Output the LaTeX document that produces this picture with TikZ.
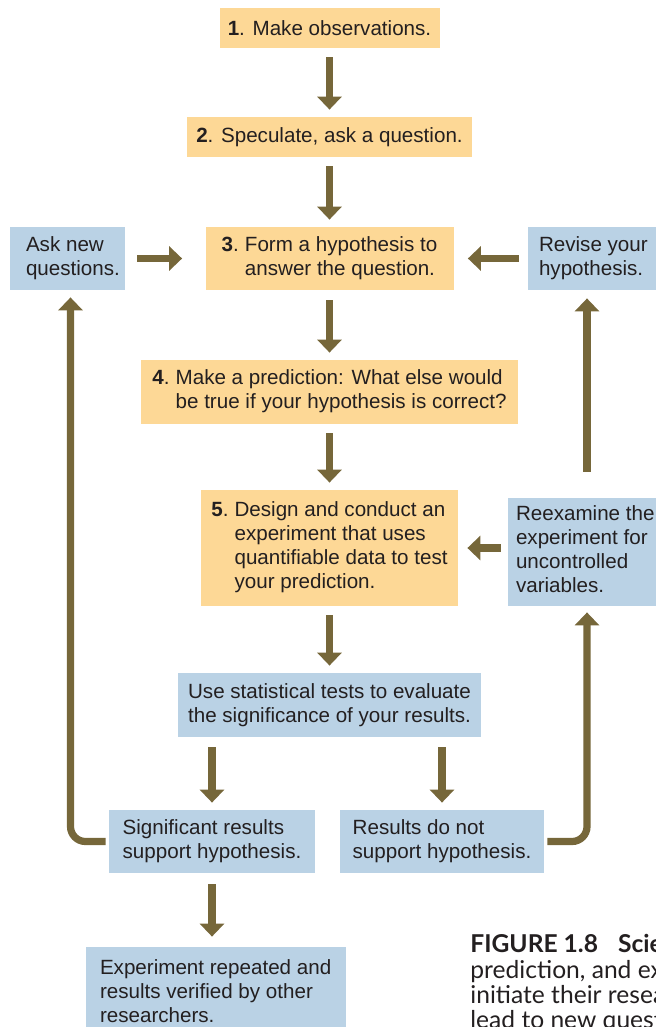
\documentclass[tikz,border=0pt]{standalone}
\usepackage{fontspec}
\setmainfont{Liberation Sans}
\newfontfamily\capfont{Lato}
\usetikzlibrary{arrows.meta}
\definecolor{orng}{HTML}{FDD896}
\definecolor{blu}{HTML}{BAD2E5}
\definecolor{arrc}{HTML}{76673A}
\definecolor{ink}{HTML}{231F20}
\newcommand{\stepnum}[1]{\textbf{#1}.\kern3pt}
\begin{document}
\begin{tikzpicture}[x=0.5pt,y=-0.5pt,
 every node/.style={inner sep=0pt, text=ink, font=\fontsize{10.3}{12}\selectfont},
 obox/.style={fill=orng},
 bbox/.style={fill=blu},
 txt/.style={align=left, anchor=west},
 captxt/.style={anchor=base west, font=\capfont\fontsize{12.3}{12}\selectfont},
 arr/.style={draw=arrc, line width=3.6pt, -{Triangle[width=12pt,length=6.5pt]}, shorten <=4.5pt, shorten >=3.5pt},
]
\path[use as bounding box, clip] (0,0) rectangle (656,1027);

% central column
\node[obox, minimum width=110pt, minimum height=20pt] (b1) at (329.5,28) {\textbf{1}. Make observations.};
\node[obox, minimum width=142.5pt, minimum height=20pt] (b2) at (329.5,137) {\textbf{2}. Speculate, ask a question.};
\node[obox, minimum width=124pt, minimum height=31.5pt] (b3) at (329.5,258.5)
  {\begin{tabular}{@{}l@{}l@{}}\stepnum{3} & Form a hypothesis to\\ & answer the question.\end{tabular}};
\node[obox, minimum width=188.5pt, minimum height=32pt] (b4) at (329.5,392)
  {\begin{tabular}{@{}l@{}l@{}}\stepnum{4} & Make a prediction: What else would\\ & be true if your hypothesis is correct?\end{tabular}};
\node[obox, minimum width=128.5pt, minimum height=58pt] (b5) at (329.5,548)
  {\begin{tabular}{@{}l@{}l@{}}\stepnum{5} & Design and conduct an\\ & experiment that uses\\ & quantifiable data to test\\ & your prediction.\end{tabular}};
\node[bbox, minimum width=151.5pt, minimum height=32pt, align=left] (stat) at (329.5,705)
  {Use statistical tests to evaluate\\the significance of your results.};
\node[bbox, minimum width=103pt, minimum height=31.5pt, align=left] (sig) at (212,841.5)
  {Significant results\\support hypothesis.};
\node[bbox, minimum width=102pt, minimum height=31.5pt, align=left] (nsig) at (442,841.5)
  {Results do not\\support hypothesis.};

% side boxes
\node[bbox, minimum width=57.5pt, minimum height=31.5pt] (ask) at (67.5,258.5) {};
\node[txt] (askt) at ([xshift=8pt]ask.west) {Ask new\\questions.};
\node[bbox, minimum width=86pt, minimum height=31.5pt] (rev) at (614,258.5) {};
\node[txt] (revt) at ([xshift=5.5pt]rev.west) {Revise your\\hypothesis.};
\node[bbox, minimum width=96pt, minimum height=54pt] (reex) at (604,552) {};
\node[txt] (reext) at ([xshift=4pt,yshift=1.5pt]reex.west) {Reexamine the\\experiment for\\uncontrolled\\variables.};
\node[bbox, minimum width=130pt, minimum height=44pt] (exp) at (216,991) {};
\node[txt] (expt) at ([xshift=7pt]exp.west) {Experiment repeated and\\results verified by other\\researchers.};

% arrows down the middle
\draw[arr] (b1.south) -- (b2.north);
\draw[arr] (b2.south) -- (b3.north);
\draw[arr, shorten <=5pt] (b3.south) -- (b4.north);
\draw[arr] (b4.south) -- (b5.north);
\draw[arr] (b5.south) -- (stat.north);
\draw[arr, shorten <=5pt] (stat.south -| sig.north) -- (sig.north);
\draw[arr, shorten <=5pt] (stat.south -| nsig.north) -- (nsig.north);
\draw[arr, shorten <=5.5pt, shorten >=5pt] (sig.south) -- (sig.south |- exp.north);

% side arrows
\draw[arr, shorten <=6pt, shorten >=11.5pt] (ask.east) -- (ask.east -| b3.west);
\draw[arr, shorten <=4.5pt, shorten >=7pt] (rev.west) -- (rev.west -| b3.east);
\draw[arr, shorten <=3.5pt, shorten >=4.5pt] ([yshift=2pt]reex.west) -- ([yshift=2pt]reex.west -| b5.east);

% loops
\coordinate (lc) at (70.5,841);
\coordinate (rc) at (587,841);
\draw[arr, rounded corners=7.5pt, shorten <=1.5pt, shorten >=3.5pt] (sig.west) -| (lc |- ask.south);
\draw[arr, rounded corners=7.5pt, shorten <=1.5pt, shorten >=3pt] (nsig.east) -| (rc |- reex.south);
\draw[arr, shorten <=13pt, shorten >=4pt] (rc |- reex.north) -- (rc |- rev.south);

% caption (cut off at the edge, as in the reference)
\node[captxt] (cap1) at (470,952) {\textbf{FIGURE 1.8}\hspace{10pt}\textbf{Scie}};
\node[captxt] (cap2) at (470,978) {prediction, and ex};
\node[captxt] (cap3) at (470,1003) {initiate their resea};
\node[captxt] (cap4) at (470,1028) {lead to new questi};
\end{tikzpicture}
\end{document}
